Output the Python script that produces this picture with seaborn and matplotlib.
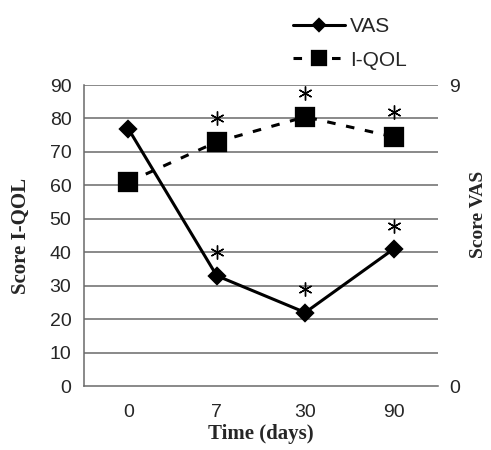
import matplotlib
matplotlib.use("Agg")
import matplotlib.pyplot as plt
import seaborn as sns
from matplotlib.ticker import FixedLocator

# ---- data ----
days = ["0", "7", "30", "90"]
qol = [61, 73, 80.5, 74.5]          # I-QOL score (left axis)
vas = [7.7, 3.3, 2.2, 4.1]          # VAS score (right axis, 0-9)
star_days = ["7", "30", "90"]
qol_star = [80, 87.5, 82]           # significance marks above I-QOL
vas_star = [4.0, 2.9, 4.8]          # significance marks above VAS
left_ticks = [0, 10, 20, 30, 40, 50, 60, 70, 80, 90]
right_ticks = [0, 9]
legend_labels = ["VAS", "I-QOL"]

sns.set_style("white")
plt.rcParams["font.family"] = ["Liberation Sans", "DejaVu Sans"]

fig = plt.figure(figsize=(4.91, 4.5), dpi=100)
ax = fig.add_axes([0.171, 0.142, 0.721, 0.669])
ax2 = ax.twinx()

grid_c = "#6a6a6a"

# I-QOL dashed with squares
sns.pointplot(x=days, y=qol, order=days, ax=ax, color="black",
              markers="s", linestyles="--", markersize=12.5,
              linewidth=2.2, errorbar=None)
h_qol = [l for l in ax.lines if l.get_marker() == "s"][0]
h_qol.set_dashes((2.8, 3.5))
# VAS solid with diamonds
sns.pointplot(x=days, y=vas, order=days, ax=ax2, color="black",
              markers="D", linestyles="-", markersize=8,
              linewidth=2.2, errorbar=None)
h_vas = [l for l in ax2.lines if l.get_marker() == "D"][0]
# asterisks
sns.pointplot(x=star_days, y=qol_star, order=days, ax=ax, color="black",
              marker=(6, 2, 0), linestyles="none", markersize=10,
              markeredgewidth=1.0, errorbar=None)
sns.pointplot(x=star_days, y=vas_star, order=days, ax=ax2, color="black",
              marker=(6, 2, 0), linestyles="none", markersize=10,
              markeredgewidth=1.0, errorbar=None)
for a in (ax, ax2):
    if a.get_legend() is not None:
        a.get_legend().remove()

ax.set_xlim(-0.5, 3.5)
ax.set_ylim(0, 90)
ax2.set_ylim(0, 9)
ax.set_yticks(left_ticks)
ax2.set_yticks(right_ticks)

for y in left_ticks[1:]:
    ax.axhline(y, color=grid_c, lw=1.1, zorder=0)

for s in ["top", "right"]:
    ax.spines[s].set_visible(False)
    ax2.spines[s].set_visible(False)
ax2.spines["left"].set_visible(False)
ax2.spines["bottom"].set_visible(False)
for s in ["left", "bottom"]:
    ax.spines[s].set_color(grid_c)
    ax.spines[s].set_linewidth(1.1)

ax.tick_params(axis="y", length=0, pad=9, labelsize=14)
ax2.tick_params(axis="y", length=0, pad=8, labelsize=14)
ax.tick_params(axis="x", which="major", length=0, pad=13, labelsize=14)
ax.xaxis.set_minor_locator(FixedLocator([0.5, 1.5, 2.5, 3.5]))
ax.tick_params(axis="x", which="minor", direction="in", length=4,
               width=1.1, color=grid_c)

serif = ["Liberation Serif", "DejaVu Serif"]
ax.set_xlabel("Time (days)", family=serif, fontweight="bold", fontsize=15, labelpad=2)
ax.set_ylabel("Score I-QOL", family=serif, fontweight="bold", fontsize=15)
ax.yaxis.set_label_coords(-0.15, 0.5)
ax2.set_ylabel("Score VAS", family=serif, fontweight="bold", fontsize=14)
ax2.yaxis.set_label_coords(1.09, 0.57)

# legend
fig.legend([h_vas, h_qol], legend_labels, loc="upper left",
           bbox_to_anchor=(0.575, 0.985), frameon=False, fontsize=15,
           handlelength=2.5, handletextpad=0.25, labelspacing=0.7,
           borderpad=0, numpoints=1, markerscale=0.75)

fig.savefig("out.png", dpi=100)
